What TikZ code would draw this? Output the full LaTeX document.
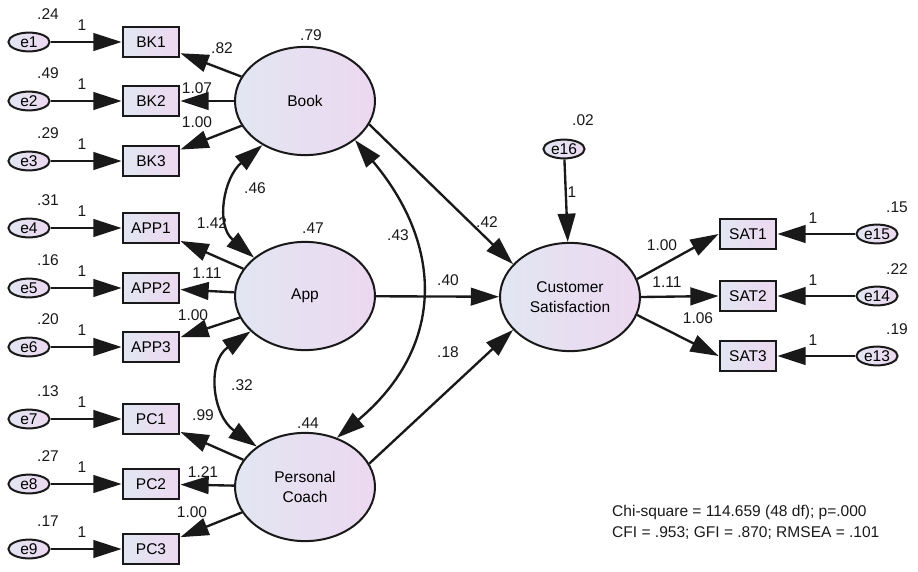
\documentclass[tikz,border=0pt]{standalone}
\usepackage{fontspec}
\setmainfont{Liberation Sans}
\usetikzlibrary{arrows.meta,shapes.geometric}

\definecolor{fillL}{RGB}{226,230,242}
\definecolor{fillR}{RGB}{236,216,240}
\definecolor{ink}{RGB}{25,25,25}

\tikzset{
    lat/.style={ellipse, draw=ink, line width=1.7pt, left color=fillL, right color=fillR,
        minimum width=119pt, minimum height=92pt, inner sep=0pt, align=center},
    obs/.style={rectangle, draw=ink, line width=2pt, left color=fillL, right color=fillR,
        minimum width=48pt, minimum height=25pt, inner sep=0pt},
    err/.style={ellipse, draw=ink, line width=1.7pt, left color=fillL, right color=fillR,
        minimum width=35pt, minimum height=16pt, inner sep=0pt},
    lbl/.style={inner sep=0pt, text=ink},
    reg/.style={draw=ink, line width=2pt, -{Triangle[length=24pt,width=15pt]}},
    cov/.style={draw=ink, line width=2pt, {Triangle[length=24pt,width=15pt]}-{Triangle[length=24pt,width=15pt]}},
}

\begin{document}
\begin{tikzpicture}[x=0.85pt, y=-0.85pt, font=\fontsize{13.2}{17}\selectfont]
    \useasboundingbox (0,0) rectangle (918,571);

    % latent variables
    \node[lat] (book) at (305,101) {Book};
    \node[lat] (app) at (305,296) {App};
    \node[lat] (pc) at (305,487) {Personal\\Coach};
    \node[lat] (cs) at (570,297) {Customer\\Satisfaction};
    \node[lbl] (vbook) at (311,35) {.79};
    \node[lbl] (vapp) at (313,228) {.47};
    \node[lbl] (vpc) at (308,423) {.44};

    % indicators on the left
    \foreach \ii/\yy/\bx/\nm/\vr/\src/\ld/\lx/\ly in {
            1/42/bk1/BK1/.24/book/.82/222/48,
            2/101/bk2/BK2/.49/book/1.07/197/88,
            3/161/bk3/BK3/.29/book/1.00/197/122,
            4/228/app1/APP1/.31/app/1.42/212/223,
            5/288/app2/APP2/.16/app/1.11/207/273,
            6/347/app3/APP3/.20/app/1.00/193/315,
            7/419/pc1/PC1/.13/pc/.99/203/415,
            8/484/pc2/PC2/.27/pc/1.21/203/472,
            9/549/pc3/PC3/.17/pc/1.00/192/512}
    {
        \node[err] (e\ii) at (29,\yy) {e\ii};
        \node[obs] (\bx) at (151,\yy) {\nm};
        \node[lbl] (v\ii) at (48,\yy-28) {\vr};
        \node[lbl] (one\ii) at (82,\yy-17) {1};
        \draw[reg] (e\ii) -- (\bx);
        \draw[reg] (\src) -- (\bx);
        \node[lbl] (w\ii) at (\lx,\ly) {\ld};
    }

    % covariances
    \draw[cov] (book.226) to[out=220, in=140, looseness=1.15] (app.143);
    \draw[cov] (app.213) to[out=215, in=145, looseness=1.2] (pc.140);
    \draw[cov] (book.322) to[out=-50, in=40, looseness=1.2] (pc.57);
    \node[lbl] (c1) at (255,188) {.46};
    \node[lbl] (c2) at (242,385) {.32};
    \node[lbl] (c3) at (398,235) {.43};

    % structural paths
    \draw[reg] (book.-20) -- (cs.150);
    \draw[reg] (app) -- (cs);
    \draw[reg] (pc.20) -- (cs.210);
    \node[lbl] (p1) at (487,222) {.42};
    \node[lbl] (p2) at (448,280) {.40};
    \node[lbl] (p3) at (448,352) {.18};

    \node[err] (e16) at (564,149) {e16};
    \node[lbl] (v16) at (583,120) {.02};
    \draw[reg] (e16) -- (cs);
    \node[lbl] (one16) at (572,192) {1};

    % indicators on the right
    \foreach \ii/\yy/\bx/\nm/\vr/\ld/\lx/\ly/\aa in {
            15/234/sat1/SAT1/.15/1.00/662/245/15,
            14/296/sat2/SAT2/.22/1.11/667/282/0,
            13/356/sat3/SAT3/.19/1.06/698/318/-15}
    {
        \node[obs] (\bx) at (748,\yy) {\nm};
        \node[err] (e\ii) at (877,\yy) {e\ii};
        \node[lbl] (v\ii) at (897,\yy-27) {\vr};
        \node[lbl] (one\ii) at (813,\yy-16) {1};
        \draw[reg] (e\ii) -- (\bx);
        \draw[reg] (cs.\aa) -- (\bx.west);
        \node[lbl] (w\ii) at (\lx,\ly) {\ld};
    }

    % fit indices
    \node[lbl, anchor=west] (fit1) at (612,512) {Chi-square = 114.659 (48 df); p=.000};
    \node[lbl, anchor=west] (fit2) at (612,533) {CFI = .953; GFI = .870; RMSEA = .101};
\end{tikzpicture}
\end{document}
